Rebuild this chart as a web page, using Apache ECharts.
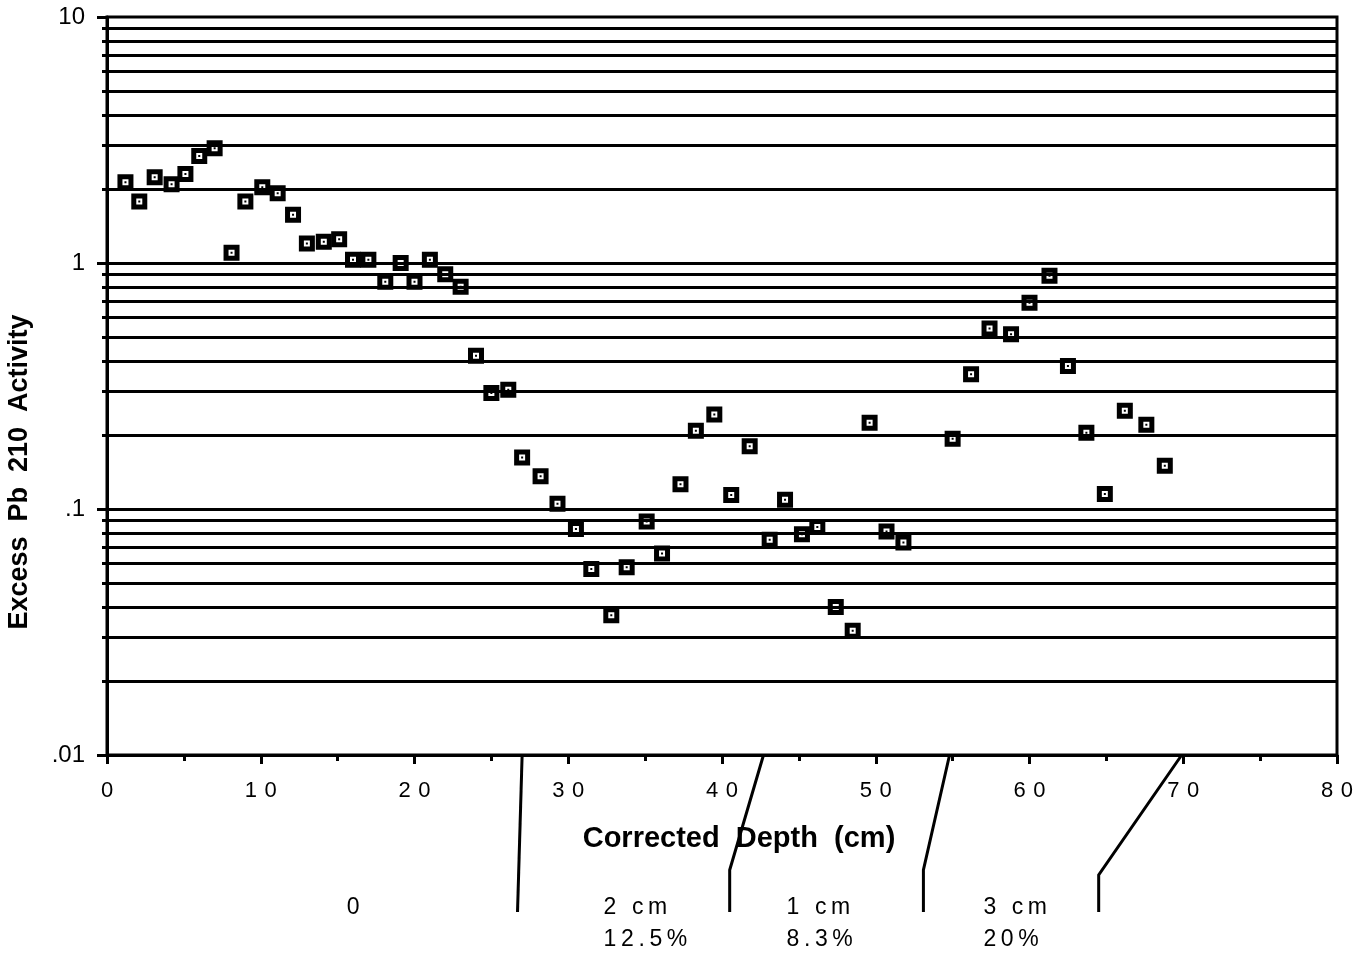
<!DOCTYPE html>
<html>
<head>
<meta charset="utf-8">
<script src="https://cdn.jsdelivr.net/npm/echarts@6/dist/echarts.min.js"></script>
<style>
  html, body { margin: 0; padding: 0; background: #fff; }
  #chart { width: 1367px; height: 954px; }
</style>
</head>
<body>
<div id="chart"></div>
<script>
// corrected depth (cm) and excess Pb-210 activity
const depth = [
  1.2, 2.1, 3.1, 4.2, 5.1, 6.0, 7.0, 8.1, 9.0, 10.1,
  11.1, 12.1, 13.0, 14.1, 15.1, 16.0, 17.0, 18.1, 19.1, 20.0,
  21.0, 22.0, 23.0, 24.0, 25.0, 26.1, 27.0, 28.2, 29.3, 30.5,
  31.5, 32.8, 33.8, 35.1, 36.1, 37.3, 38.3, 39.5, 40.6, 41.8,
  43.1, 44.1, 45.2, 46.2, 47.4, 48.5, 49.6, 50.7, 51.8, 55.0,
  56.2, 57.4, 58.8, 60.0, 61.3, 62.5, 63.7, 64.9, 66.2, 67.6,
  68.8
];
const activity = [
  2.13, 1.78, 2.23, 2.09, 2.30, 2.72, 2.93, 1.10, 1.78, 2.03,
  1.92, 1.57, 1.20, 1.22, 1.25, 1.03, 1.03, 0.84, 1.00, 0.84,
  1.03, 0.90, 0.80, 0.42, 0.296, 0.305, 0.162, 0.136, 0.105, 0.083,
  0.057, 0.037, 0.058, 0.089, 0.066, 0.126, 0.208, 0.242, 0.114, 0.180,
  0.075, 0.109, 0.079, 0.0845, 0.040, 0.032, 0.224, 0.081, 0.073, 0.193,
  0.353, 0.542, 0.513, 0.69, 0.887, 0.381, 0.204, 0.115, 0.251, 0.220,
  0.150
];

// y axis: ruled lines at every 1..9 step of each decade, labels at decades
const yMinorValues = [
  0.02, 0.03, 0.04, 0.05, 0.06, 0.07, 0.08, 0.09,
  0.2, 0.3, 0.4, 0.5, 0.6, 0.7, 0.8, 0.9,
  2, 3, 4, 5, 6, 7, 8, 9
];
const yMajorValues = [0.01, 0.1, 1, 10];
const yMajorLabels = ['.01', '.1', '1', '10'];

// depth-interval dividers under the x axis (top on axis, bottom near labels)
const dividerTop = [27.0, 42.7, 54.8, 69.9];
const dividerBottom = [26.7, 40.5, 53.1, 64.5];
const dividerElbow = [0, 115, 115, 120];
const intervalX = [15.6, 32.3, 44.2, 57.0];
const intervalText = ['0', '2 cm\n12.5%', '1 cm\n8.3%', '3 cm\n20%'];

const FONT = '"Liberation Sans", Arial, sans-serif';
// typewriter-ish letter spacing of the original
const spaced = (s, gap) => s.split('\n').map(l => l.split('').join(gap)).join('\n');

const chart = echarts.init(document.getElementById('chart'), null, { renderer: 'canvas' });

const marker = 'path://M0,0L16,0L16,16L0,16Z M5,5L5,11L11,11L11,5Z M7,7L9,7L9,9L7,9Z';

const logAxis = {
  type: 'log',
  logBase: 10,
  min: 0.01,
  max: 10,
  position: 'left',
  splitLine: { show: false },
  minorTick: { show: false },
};

chart.setOption({
  backgroundColor: '#fff',
  animation: false,
  grid: {
    left: 107, right: 30, top: 17, bottom: 199,
    outerBoundsMode: 'none',
    containLabel: false,
    show: true, borderColor: '#000', borderWidth: 3,
  },
  xAxis: {
    type: 'value',
    min: 0, max: 80, interval: 10,
    axisLine: { lineStyle: { color: '#000', width: 3 } },
    axisTick: { length: 9, lineStyle: { color: '#000', width: 3 } },
    minorTick: { show: true, splitNumber: 2, length: 6, lineStyle: { color: '#000', width: 3 } },
    splitLine: { show: false },
    axisLabel: {
      margin: 25,
      color: '#000',
      fontFamily: FONT,
      fontSize: 22,
      formatter: v => spaced(String(v), '\u2004'),
    },
    name: 'Corrected  Depth  (cm)',
    nameLocation: 'middle',
    nameGap: 69,
    nameTextStyle: { color: '#000', fontFamily: FONT, fontSize: 29, fontWeight: 'bold', padding: [0, 0, 0, 34] },
  },
  yAxis: [
    Object.assign({}, logAxis, {
      axisLine: { show: true, lineStyle: { color: '#000', width: 3 } },
      axisTick: { show: true, length: 5, customValues: yMinorValues, lineStyle: { color: '#000', width: 3 } },
      axisLabel: { show: false },
      name: 'Excess  Pb  210  Activity',
      nameLocation: 'middle',
      nameRotate: 90,
      nameGap: 74,
      nameTextStyle: { color: '#000', fontFamily: FONT, fontSize: 27, fontWeight: 'bold', padding: [0, 172, 0, 0] },
    }),
    Object.assign({}, logAxis, {
      axisLine: { show: false },
      axisTick: { show: true, length: 10, customValues: yMajorValues, lineStyle: { color: '#000', width: 3 } },
      axisLabel: {
        customValues: yMajorValues,
        margin: 22,
        color: '#000',
        fontFamily: FONT,
        fontSize: 24,
        formatter: v => yMajorLabels[yMajorValues.findIndex(m => Math.abs(m - v) / m < 1e-6)] ?? '',
      },
    }),
  ],
  series: [{
    type: 'scatter',
    data: depth.map((d, i) => [d, activity[i]]),
    symbol: marker,
    symbolSize: 16,
    itemStyle: { color: '#000', opacity: 1 },
    z: 5,
    markLine: {
      silent: true,
      symbol: 'none',
      label: { show: false },
      lineStyle: { color: '#000', width: 3, type: 'solid', opacity: 1 },
      data: yMinorValues.concat(yMajorValues.slice(1, 3)).map(v => ({ yAxis: v })),
      z: 2,
    },
  }],
});

// dividers and interval labels under the axis
const axisY = 954 - 199;
const px = v => chart.convertToPixel({ xAxisIndex: 0 }, v);
const graphics = [];
dividerTop.forEach((t, i) => {
  const x0 = px(t), x1 = px(dividerBottom[i]);
  const pts = [[x0, axisY]];
  if (dividerElbow[i]) pts.push([x1, axisY + dividerElbow[i]]);
  pts.push([x1, axisY + 157]);
  graphics.push({
    type: 'polyline',
    shape: { points: pts },
    style: { stroke: '#000', lineWidth: 3, fill: null },
  });
});
intervalText.forEach((t, i) => {
  graphics.push({
    type: 'text',
    x: px(intervalX[i]),
    y: axisY + 137,
    style: { text: spaced(t, '\u2009'), fill: '#000', font: '23px ' + FONT, lineHeight: 32, textAlign: 'left', textVerticalAlign: 'top' },
  });
});
chart.setOption({ graphic: graphics });
</script>
</body>
</html>
